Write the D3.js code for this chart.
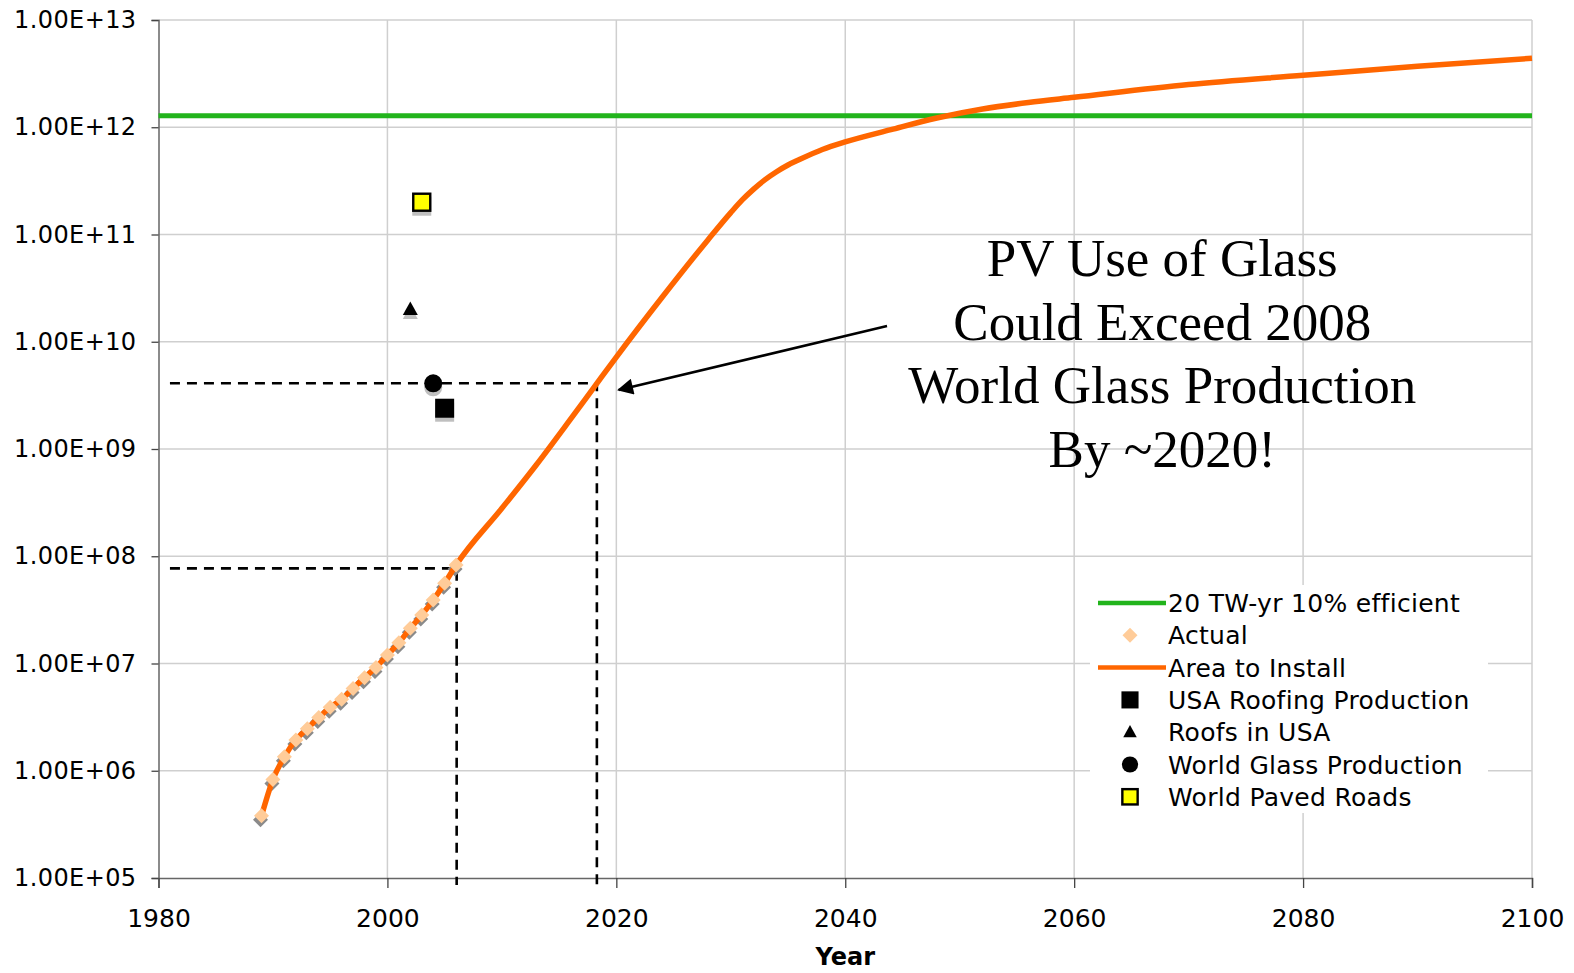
<!DOCTYPE html>
<html>
<head>
<meta charset="utf-8">
<script src="https://cdn.jsdelivr.net/npm/d3@7"></script>
<style>
  body { margin: 0; background: #fff; }
  svg { display: block; }
</style>
</head>
<body>
<script>
'use strict';

// tick values for both axes
const xTicks = [1980, 2000, 2020, 2040, 2060, 2080, 2100];
const yTicks = [1e5, 1e6, 1e7, 1e8, 1e9, 1e10, 1e11, 1e12, 1e13];

// "Actual" installed area (diamonds), 1989 - 2006
const actualYears = [1989, 1990, 1991, 1992, 1993, 1994, 1995, 1996, 1997,
  1998, 1999, 2000, 2001, 2002, 2003, 2004, 2005, 2006];
const actualValues = [3.8e5, 8.3e5, 1.35e6, 1.94e6, 2.47e6, 3.13e6, 3.9e6, 4.63e6, 5.86e6,
  7.38e6, 9.2e6, 1.2e7, 1.56e7, 2.13e7, 2.83e7, 3.91e7, 5.6e7, 8.28e7];

// "Area to Install" projection after 2006
const projYears = [2010, 2013, 2016, 2018, 2020, 2024, 2028, 2030, 2031, 2032, 2033, 2034,
  2035, 2036, 2038, 2040, 2044, 2048, 2052, 2056, 2060, 2070, 2080, 2090, 2100];
const projValues = [2.8e8, 7.1e8, 1.9e9, 3.7e9, 7.2e9, 2.6e10, 8.9e10, 1.6e11, 2.1e11, 2.65e11, 3.25e11, 3.85e11,
  4.45e11, 5.0e11, 6.2e11, 7.3e11, 9.5e11, 1.22e12, 1.48e12, 1.7e12, 1.9e12, 2.5e12, 3.05e12, 3.7e12, 4.4e12];

// 20 TW-yr 10% efficient (flat level)
const twLevel = 1.28e12;

// single reference points
const refNames = ['USA Roofing Production', 'Roofs in USA', 'World Glass Production', 'World Paved Roads'];
const refYears = [2005, 2002, 2004, 2003];
const refValues = [2.4e9, 2.0e10, 4.1e9, 2.0e11];

// dashed guides: lower one at 2006, upper one where the curve meets world glass production
const guideYears = [2006.05, 2018.3];
const guideValues = [7.7e7, 4.1e9];

const annotationLines = ['PV Use of Glass', 'Could Exceed 2008', 'World Glass Production', 'By ~2020!'];

const legendNames = ['20 TW-yr 10% efficient', 'Actual', 'Area to Install'].concat(refNames);

const ORANGE = '#ff6600';
const GREEN = '#22b41c';
const PEACH = '#ffcc99';
const SHADOW = '#8a8a8a';

let svg = d3.select('body').append('svg')
  .attr('width', 1574)
  .attr('height', 973);

let x = d3.scaleLinear().domain([1980, 2100]).range([158.5, 1532]);
let y = d3.scaleLog().domain([1e5, 1e13]).range([878, 20]);

// gridlines
svg.append('g').selectAll('line')
  .data(xTicks.slice(1))
  .enter().append('line')
  .attr('x1', (d) => x(d)).attr('x2', (d) => x(d))
  .attr('y1', y(1e13)).attr('y2', y(1e5))
  .attr('stroke', '#cfcfcf').attr('stroke-width', 1.5);

svg.append('g').selectAll('line')
  .data(yTicks.slice(1))
  .enter().append('line')
  .attr('x1', x(1980)).attr('x2', x(2100))
  .attr('y1', (d) => y(d)).attr('y2', (d) => y(d))
  .attr('stroke', '#cfcfcf').attr('stroke-width', 1.5);

// axes
let fmtExp = (d) => '1.00E+' + String(Math.round(Math.log10(d))).padStart(2, '0');

let yAxis = svg.append('g')
  .attr('transform', 'translate(' + x(1980) + ',0)')
  .call(d3.axisLeft(y).tickValues(yTicks).tickFormat(fmtExp).tickSize(7).tickPadding(15));

let xAxis = svg.append('g')
  .attr('transform', 'translate(0,' + y(1e5) + ')')
  .call(d3.axisBottom(x).tickValues(xTicks).tickFormat(d3.format('d')).tickSize(10).tickPadding(21));

[yAxis, xAxis].forEach((g) => {
  g.select('.domain').attr('stroke', '#666').attr('stroke-width', 1.5);
  g.selectAll('.tick line').attr('stroke', '#444').attr('stroke-width', 1.3);
  g.selectAll('text')
    .attr('fill', '#000')
    .style('font-family', '"DejaVu Sans", Verdana, sans-serif');
});
yAxis.selectAll('text').style('font-size', '24px').style('letter-spacing', '0.4px');
xAxis.selectAll('text').style('font-size', '25px');

// axis title
svg.append('text')
  .attr('x', x(2040))
  .attr('y', 965)
  .attr('text-anchor', 'middle')
  .style('font-family', '"DejaVu Sans", Verdana, sans-serif')
  .style('font-weight', 'bold')
  .style('font-size', '24px')
  .text('Year');

// dashed guides
let guides = svg.append('g')
  .attr('stroke', '#000')
  .attr('stroke-width', 2.6)
  .attr('stroke-dasharray', '10,7')
  .attr('fill', 'none');

guideYears.forEach((yr, i) => {
  guides.append('path')
    .attr('d', d3.line()([
      [x(1981), y(guideValues[i])],
      [x(yr), y(guideValues[i])],
      [x(yr), y(8.6e4)]
    ]));
});

// green level line
svg.append('path')
  .datum([1980, 2100])
  .attr('d', d3.line().x((d) => x(d)).y(() => y(twLevel)))
  .attr('stroke', GREEN)
  .attr('stroke-width', 5)
  .attr('fill', 'none');

// diamond symbol helper
let diamond = (cx, cy, r) => 'M' + cx + ',' + (cy - r) + 'L' + (cx + r) + ',' + cy +
  'L' + cx + ',' + (cy + r) + 'L' + (cx - r) + ',' + cy + 'Z';

// diamond shadows
svg.append('g').selectAll('path')
  .data(actualYears)
  .enter().append('path')
  .attr('d', (d, i) => diamond(x(d) - 1, y(actualValues[i]) + 4, 7.5))
  .attr('fill', SHADOW);

// orange projection through the actual values
let areaData = actualYears.map((d, i) => [d, actualValues[i]])
  .concat(projYears.map((d, i) => [d, projValues[i]]));

svg.append('path')
  .datum(areaData)
  .attr('d', d3.line().x((d) => x(d[0])).y((d) => y(d[1])).curve(d3.curveMonotoneX))
  .attr('stroke', ORANGE)
  .attr('stroke-width', 5.5)
  .attr('stroke-linejoin', 'round')
  .attr('fill', 'none');

// actual diamonds
svg.append('g').selectAll('path')
  .data(actualYears)
  .enter().append('path')
  .attr('d', (d, i) => diamond(x(d), y(actualValues[i]), 7.5))
  .attr('fill', PEACH);

// reference point markers
function drawMarker(g, kind, cx, cy, big) {
  let s = big ? 1 : 0.9;
  if (kind === 0) {
    g.append('rect').attr('x', cx - 9.5 * s).attr('y', cy - 9.5 * s)
      .attr('width', 19 * s).attr('height', 19 * s).attr('fill', '#000');
  } else if (kind === 1) {
    g.append('path')
      .attr('d', 'M' + cx + ',' + (cy - 8 * s) + 'L' + (cx + 7.5 * s) + ',' + (cy + 5.5 * s) +
        'L' + (cx - 7.5 * s) + ',' + (cy + 5.5 * s) + 'Z')
      .attr('fill', '#000');
  } else if (kind === 2) {
    g.append('circle').attr('cx', cx).attr('cy', cy).attr('r', 9 * s).attr('fill', '#000');
  } else {
    g.append('rect').attr('x', cx - 8.5 * s).attr('y', cy - 8.5 * s)
      .attr('width', 17 * s).attr('height', 17 * s)
      .attr('fill', '#ffff00').attr('stroke', '#000').attr('stroke-width', 2.4);
  }
}

let refG = svg.append('g');
refYears.forEach((yr, i) => {
  // shadow
  let sh = refG.append('g').attr('transform', 'translate(0,4)').attr('opacity', 0.55);
  drawMarker(sh, i === 3 ? 0 : i, x(yr), y(refValues[i]), true);
  sh.selectAll('*').attr('fill', SHADOW).attr('stroke', 'none');
});
refYears.forEach((yr, i) => {
  drawMarker(refG, i, x(yr), y(refValues[i]), true);
});

// arrow pointing at the crossing
svg.append('defs').append('marker')
  .attr('id', 'head')
  .attr('viewBox', '0 0 10 10')
  .attr('refX', 9).attr('refY', 5)
  .attr('markerWidth', 24).attr('markerHeight', 16)
  .attr('markerUnits', 'userSpaceOnUse')
  .attr('orient', 'auto')
  .append('path').attr('d', 'M0,0L10,5L0,10Z').attr('fill', '#000');

svg.append('line')
  .attr('x1', x(2043.65)).attr('y1', y(1.4e10))
  .attr('x2', x(2020.2)).attr('y2', y(3.55e9))
  .attr('stroke', '#000')
  .attr('stroke-width', 2.5)
  .attr('marker-end', 'url(#head)');

// big annotation text
svg.append('text')
  .attr('x', x(2067.7))
  .attr('y', y(4.1e10))
  .attr('text-anchor', 'middle')
  .style('font-family', '"Liberation Serif", "Times New Roman", serif')
  .style('font-size', '53px')
  .selectAll('tspan')
  .data(annotationLines)
  .enter().append('tspan')
  .attr('x', x(2067.7))
  .attr('dy', (d, i) => i === 0 ? 0 : 63.5)
  .text((d) => d);

// legend
let legend = svg.append('g').attr('transform', 'translate(1090,585)');
legend.append('rect')
  .attr('width', 398).attr('height', 228)
  .attr('fill', '#fff');

legendNames.forEach((name, i) => {
  let cy = 18 + i * 32.3;
  let row = legend.append('g');
  if (i === 0 || i === 2) {
    row.append('line')
      .attr('x1', 8).attr('x2', 76).attr('y1', cy).attr('y2', cy)
      .attr('stroke', i === 0 ? GREEN : ORANGE).attr('stroke-width', 4.5);
  } else if (i === 1) {
    row.append('path').attr('d', diamond(40, cy, 7.5)).attr('fill', PEACH);
  } else {
    drawMarker(row, i - 3, 40, cy, false);
  }
  row.append('text')
    .attr('x', 78)
    .attr('y', cy)
    .attr('dy', '0.36em')
    .style('font-family', '"DejaVu Sans", Verdana, sans-serif')
    .style('font-size', '25px')
    .style('letter-spacing', '0.3px')
    .text(name);
});
</script>
</body>
</html>
